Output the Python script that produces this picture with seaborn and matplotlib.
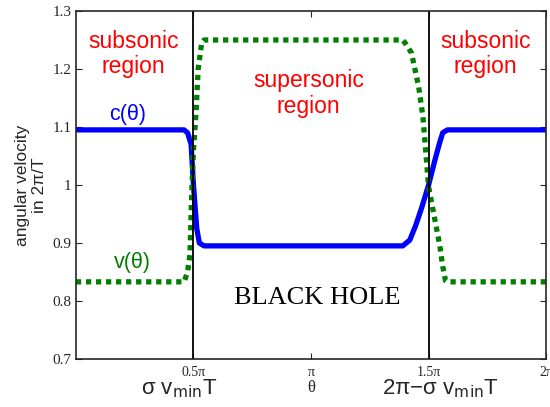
import numpy as np
import pandas as pd
import matplotlib
matplotlib.use("Agg")
import matplotlib.pyplot as plt
import seaborn as sns

# theta in units of pi
c_theta = [0.0, 0.46, 0.475, 0.49, 0.50, 0.514, 0.525, 0.545, 1.39, 1.42, 1.445, 1.47, 1.50, 1.525, 1.545, 1.56, 1.58, 2.0]
c_vals = [1.095, 1.095, 1.09, 1.07, 1.0, 0.925, 0.90, 0.895, 0.895, 0.905, 0.93, 0.96, 1.0, 1.04, 1.07, 1.09, 1.095, 1.095]

v_theta = [0.0, 0.46, 0.475, 0.485, 0.493, 0.50, 0.511, 0.52, 0.535, 0.545, 1.39, 1.40, 1.427, 1.458, 1.476, 1.50, 1.547, 1.56, 1.572, 1.58, 2.0]
v_vals = [0.833, 0.833, 0.85, 0.88, 0.99, 1.06, 1.125, 1.20, 1.245, 1.25, 1.25, 1.245, 1.228, 1.169, 1.117, 0.997, 0.897, 0.86, 0.835, 0.833, 0.833]

xtick_pos = [0.5, 1.0, 1.5, 2.0]
xtick_lab = ["0.5\u03c0", "\u03c0", "1.5\u03c0", "2\u03c0"]
ytick_pos = [0.7, 0.8, 0.9, 1.0, 1.1, 1.2, 1.3]
ytick_lab = ["0.7", "0.8", "0.9", "1", "1.1", "1.2", "1.3"]
horizon = [0.5, 1.5]

df_c = pd.DataFrame({"theta": c_theta, "val": c_vals})
df_v = pd.DataFrame({"theta": v_theta, "val": v_vals})

sns.set_style("ticks")
plt.rcParams["font.family"] = ["Liberation Sans", "DejaVu Sans"]

fig = plt.figure(figsize=(5.5, 4.07), dpi=100)
ax = fig.add_axes([0.138, 0.118, 0.855, 0.855])

sns.lineplot(data=df_c, x="theta", y="val", ax=ax, color="#0000ff", lw=3.8, sort=False)
sns.lineplot(data=df_v, x="theta", y="val", ax=ax, color="#007f00", lw=3.8, sort=False,
             linestyle=(0, (1, 0.9)), dash_capstyle="butt")
for h in horizon:
    ax.axvline(h, color="black", lw=1.3)

ax.set_xlim(0, 2)
ax.set_ylim(0.7, 1.3)
ax.set_xticks(xtick_pos)
ax.set_xticklabels(xtick_lab, family="Liberation Serif", fontsize=10)
ax.set_yticks(ytick_pos)
ax.set_yticklabels(ytick_lab, family="Liberation Serif", fontsize=11)
ax.tick_params(axis="x", direction="in", top=True, length=4, width=0.8, pad=5)
ax.tick_params(axis="y", direction="in", right=True, length=4, width=0.8, pad=3)
for s in ax.spines.values():
    s.set_linewidth(1.2)
    s.set_visible(True)

ax.set_xlabel("")
ax.set_ylabel("angular velocity\nin 2\u03c0/T", fontsize=12.5, labelpad=4)

red = "#ff0000"
ax.text(0.246, 1.226, "subsonic\nregion", color=red, fontsize=16.5, ha="center", va="center", linespacing=1.15)
ax.text(1.742, 1.226, "subsonic\nregion", color=red, fontsize=16.5, ha="center", va="center", linespacing=1.15)
ax.text(0.99, 1.158, "supersonic\nregion", color=red, fontsize=16.5, ha="center", va="center", linespacing=1.15)
ax.text(0.22, 1.122, "c(\u03b8)", color="#0000ff", fontsize=15.5, ha="center", va="center")
ax.text(0.24, 0.866, "v(\u03b8)", color="#007f00", fontsize=15.5, ha="center", va="center")
ax.text(1.025, 0.805, "BLACK HOLE", color="black", fontsize=19, family="Liberation Serif", ha="center", va="center")

# labels under the axis
ax.text(1.0, -0.082, "\u03b8", transform=ax.get_xaxis_transform(), fontsize=12,
        family="Liberation Serif", ha="center", va="center")
ax.text(0.44, -0.085, "\u03c3 v$_{\\mathrm{min}}$T", transform=ax.get_xaxis_transform(), fontsize=16,
        ha="center", va="center")
ax.text(1.55, -0.085, "2\u03c0\u2212\u03c3 v$_{\\mathrm{min}}$T", transform=ax.get_xaxis_transform(), fontsize=16,
        ha="center", va="center")

fig.savefig("out.png", dpi=100)
